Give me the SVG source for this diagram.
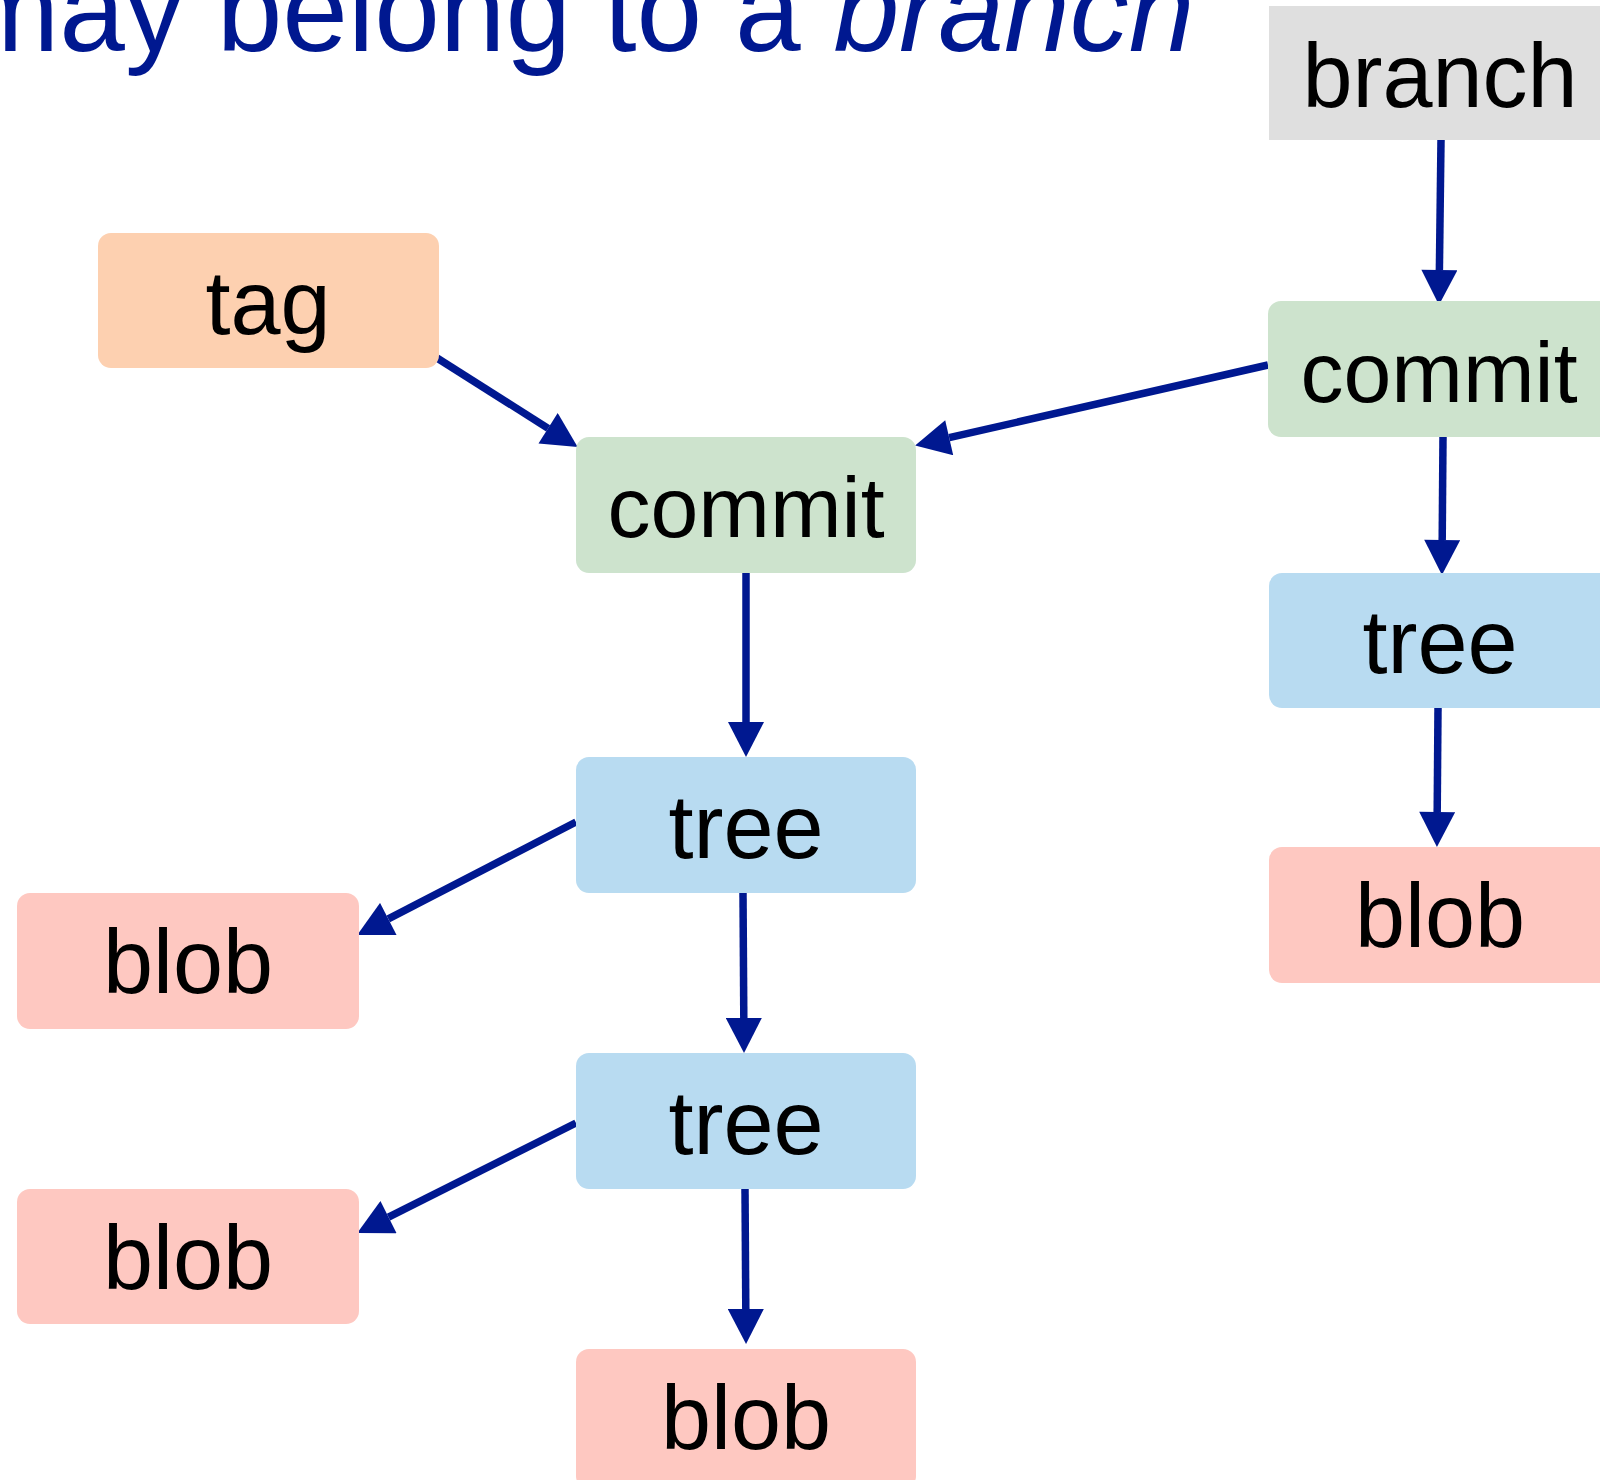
<svg xmlns="http://www.w3.org/2000/svg" width="1600" height="1480" viewBox="0 0 1600 1480">
<style>
.lbl{font-family:"Liberation Sans",Arial,Helvetica,sans-serif;font-size:90px;fill:#000;text-anchor:middle}
.lbl.c{font-size:86px}
.title{font-family:"Liberation Sans",Arial,Helvetica,sans-serif;font-size:118px;fill:#001890}
.tag{fill:#fdd0b0}
.commit{fill:#cde3cd}
.tree{fill:#b8dbf1}
.blob{fill:#fec8c1}
.branch{fill:#dfdfdf}
.conn{stroke:#001890;stroke-width:7.5;fill:none;marker-end:url(#arr)}
</style>
<defs>
<marker id="arr" markerUnits="userSpaceOnUse" markerWidth="36" markerHeight="36" viewBox="0 0 34 35" refX="0" refY="17.5" orient="auto">
<path d="M0,0 L34,17.5 L0,35 z" fill="#001890"/>
</marker>
</defs>
<rect width="1600" height="1480" fill="#fff"/>
<text class="title" x="-39" y="51">may belong to a <tspan font-style="italic">branch</tspan></text>
<g id="connectors">
<line class="conn" x1="1441" y1="140" x2="1439.4" y2="270"/>
<line class="conn" x1="1268" y1="365" x2="949.2" y2="437.7"/>
<line class="conn" x1="437" y1="358" x2="548.1" y2="428.3"/>
<line class="conn" x1="1443" y1="437" x2="1442.2" y2="540"/>
<line class="conn" x1="1438" y1="708" x2="1437.2" y2="812"/>
<line class="conn" x1="746" y1="573" x2="746" y2="722"/>
<line class="conn" x1="576" y1="822" x2="388.3" y2="918.9"/>
<line class="conn" x1="743" y1="893" x2="743.8" y2="1018"/>
<line class="conn" x1="576" y1="1123" x2="388.5" y2="1217.2"/>
<line class="conn" x1="745" y1="1189" x2="745.8" y2="1309"/>
</g>
<g id="branch"><rect class="branch" x="1269" y="6" width="340" height="134"/><text class="lbl" x="1440" y="107">branch</text></g>
<g id="tag"><rect class="tag" x="98" y="233" width="341" height="135" rx="13"/><text class="lbl" x="268" y="334">tag</text></g>
<g id="commit-right"><rect class="commit" x="1268" y="301" width="345" height="136" rx="13"/><text class="lbl c" x="1439" y="402">commit</text></g>
<g id="commit-mid"><rect class="commit" x="576" y="437" width="340" height="136" rx="13"/><text class="lbl c" x="746" y="537">commit</text></g>
<g id="tree-right"><rect class="tree" x="1269" y="573" width="345" height="135" rx="13"/><text class="lbl" x="1440" y="673">tree</text></g>
<g id="tree-mid1"><rect class="tree" x="576" y="757" width="340" height="136" rx="13"/><text class="lbl" x="746" y="858">tree</text></g>
<g id="blob-left1"><rect class="blob" x="17" y="893" width="342" height="136" rx="13"/><text class="lbl" x="188" y="993">blob</text></g>
<g id="blob-right"><rect class="blob" x="1269" y="847" width="345" height="136" rx="13"/><text class="lbl" x="1440" y="947">blob</text></g>
<g id="tree-mid2"><rect class="tree" x="576" y="1053" width="340" height="136" rx="13"/><text class="lbl" x="746" y="1154">tree</text></g>
<g id="blob-left2"><rect class="blob" x="17" y="1189" width="342" height="135" rx="13"/><text class="lbl" x="188" y="1289">blob</text></g>
<g id="blob-bottom"><rect class="blob" x="576" y="1349" width="340" height="140" rx="13"/><text class="lbl" x="746" y="1449">blob</text></g>
</svg>
